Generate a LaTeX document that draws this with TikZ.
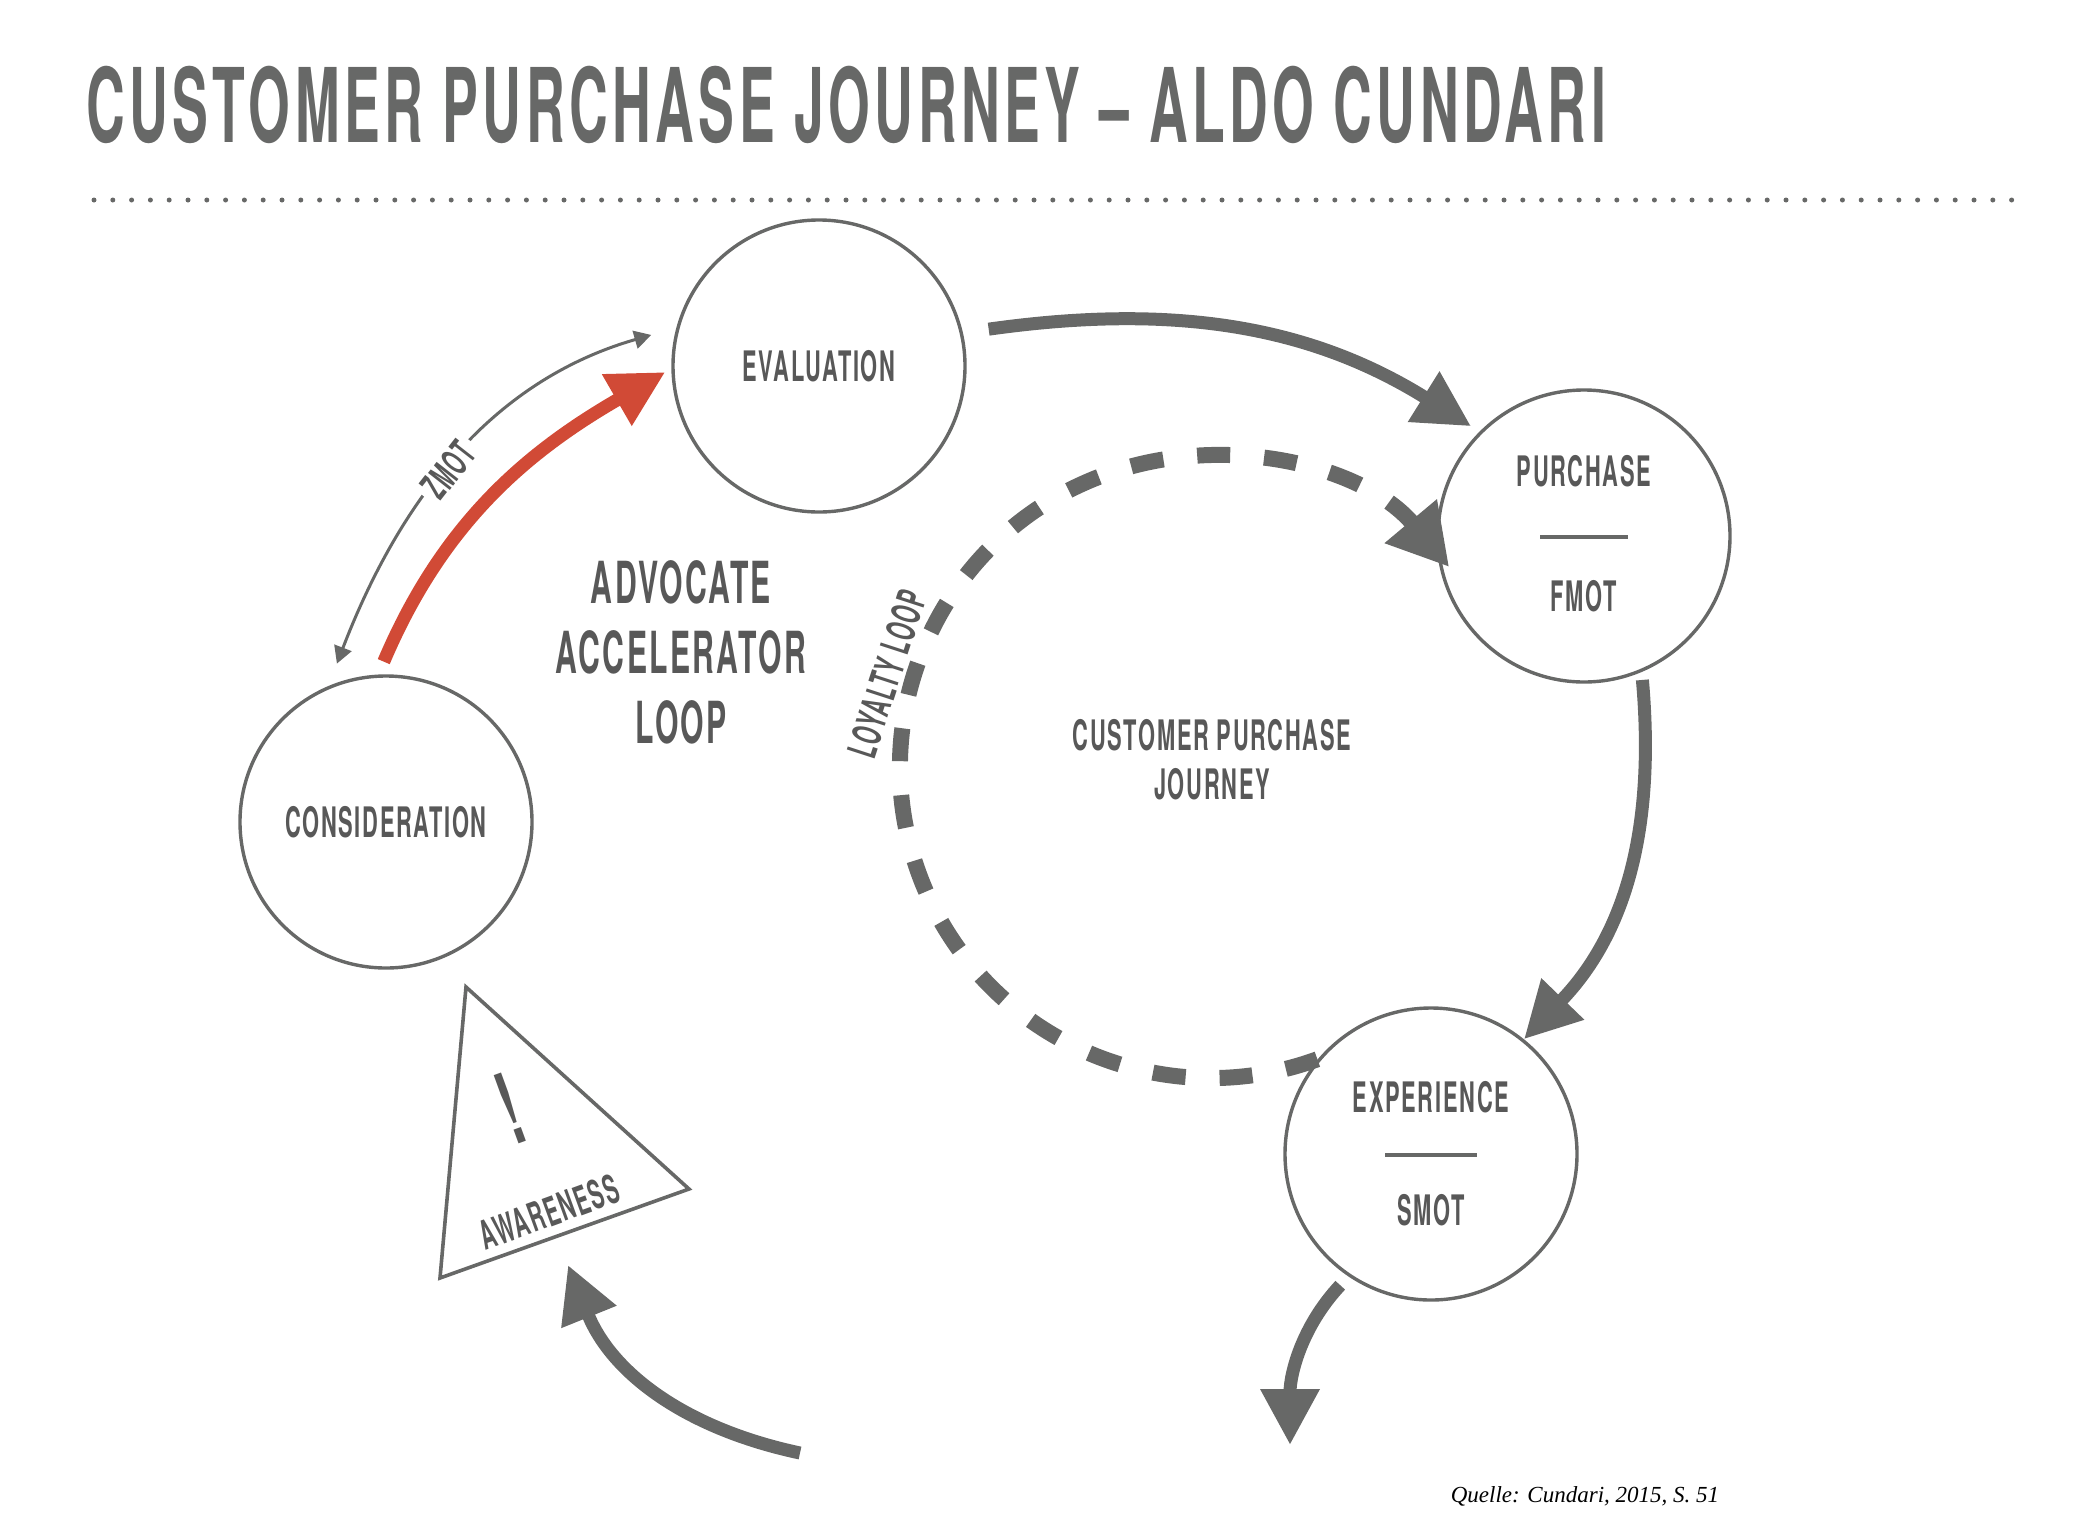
\documentclass[tikz,border=0pt]{standalone}
\usepackage{fontspec}
\usepackage{xcolor}
\usetikzlibrary{arrows.meta,calc,positioning}

\newfontfamily\dinfont{TeX Gyre Heros}[FakeStretch=0.52,LetterSpace=4]
\newfontfamily\headfont{TeX Gyre Heros}[FakeStretch=0.52,LetterSpace=4.4]
\newfontfamily\srcfont{Liberation Serif}
\newcommand\lblfont{\dinfont\bfseries\fontsize{21}{25}\selectfont}
\definecolor{cpjgray}{RGB}{103,104,103}
\definecolor{cpjtext}{RGB}{88,88,88}
\definecolor{cpjred}{RGB}{209,74,54}

\tikzset{
  stage/.style={circle, draw=cpjgray, line width=1.7pt, minimum size=146pt, inner sep=0pt, text=cpjtext, font=\lblfont},
  lbl/.style={inner sep=0pt, text=cpjtext, font=\lblfont},
  bigarrow/.style={draw=cpjgray, line width=6.5pt, -{Triangle[length=28pt,width=28pt]}},
  redarrow/.style={draw=cpjred, line width=6.5pt, -{Triangle[length=28pt,width=28pt]}},
  thinarrow/.style={draw=cpjgray, line width=1.5pt, {Triangle[length=8.5pt,width=9pt]}-{Triangle[length=8.5pt,width=9pt]}},
  loopline/.style={draw=cpjgray, line width=8pt, dash pattern=on 16.5pt off 17pt, -{Triangle[length=30pt,width=32pt]}},
  sepline/.style={draw=cpjgray, line width=1.7pt},
  warnbox/.style={draw=cpjgray, line width=1.8pt, line join=miter},
  dotline/.style={draw=cpjgray, line width=2.5pt, line cap=round, dash pattern=on 0pt off 9.4pt}
}

\begin{document}
\begin{tikzpicture}[x=0.5pt,y=0.5pt,yscale=-1]
\useasboundingbox (0,0) rectangle (2082,1537);

% Title
\node[anchor=west, inner sep=0pt, text=cpjgray, font=\headfont\bfseries\fontsize{51.5}{60}\selectfont] (head) at (86,105) {CUSTOMER PURCHASE JOURNEY – ALDO CUNDARI};
\draw[dotline] (94,200) -- (2012,200);

%Shape: Circle
\node[stage] (eval) at (819,366) {EVALUATION};
\node[stage] (purch) at (1584,536) {};
\node[stage] (consid) at (386,822) {CONSIDERATION};
\node[stage] (exper) at (1431,1154) {};

% Text Node
\node[lbl] (purchtxt) at ($(purch)+(0,-65)$) {PURCHASE};
\draw[sepline] ($(purch)+(-44,1)$) -- ($(purch)+(44,1)$);
\node[lbl] (fmot) at ($(purch)+(0,60)$) {FMOT};
\node[lbl] (expertxt) at ($(exper)+(0,-57)$) {EXPERIENCE};
\draw[sepline] ($(exper)+(-46,1)$) -- ($(exper)+(46,1)$);
\node[lbl] (smot) at ($(exper)+(0,56)$) {SMOT};

%Shape: Triangle
\coordinate (awtop) at (466,987);
\coordinate (awright) at (689,1189);
\coordinate (awleft) at (440,1278);
\draw[warnbox] (awtop) -- (awright) -- (awleft) -- cycle;
\node[lbl, rotate=20, font=\dinfont\bfseries\fontsize{50}{60}\selectfont] (bang) at (510,1108) {!};
\node[lbl, rotate=20, font=\dinfont\bfseries\fontsize{20}{24}\selectfont] (aware) at (549,1212) {AWARENESS};

% Loyalty loop
\coordinate (loopc) at (1211,767);
\draw[loopline] ($(loopc)+(70:311)$) arc[start angle=70, end angle=320, radius=311];
\node[lbl, align=center, font=\dinfont\bfseries\fontsize{21}{24.5}\selectfont] (cpj) at (1212,760) {CUSTOMER PURCHASE\\JOURNEY};
\node[lbl, rotate=72, font=\dinfont\bfseries\fontsize{20}{24}\selectfont] (loyal) at (887,674) {LOYALTY LOOP};

% Advocate accelerator loop
\node[lbl, align=center, font=\dinfont\bfseries\fontsize{29}{35}\selectfont] (aal) at (681,652) {ADVOCATE\\ACCELERATOR\\LOOP};
\draw[thinarrow, shorten <=12pt, shorten >=13pt] (consid.113) to[out=-69, in=164] node[pos=0.47, rotate=52, fill=white, inner sep=3pt, text=cpjtext, font=\dinfont\bfseries\fontsize{19}{23}\selectfont] (zmot) {ZMOT} (eval.165);
\draw[redarrow, shorten <=7pt, shorten >=3.5pt] (consid.93) to[out=-67, in=150] (eval.181);

% Connectors
\draw[bigarrow, shorten <=13pt, shorten >=5pt] (eval.13) to[out=-8, in=-148] (purch.135);
\draw[bigarrow, shorten <=4pt] (purch.-67) to[out=85, in=-46] (exper.51);
\coordinate (exit) at (1290,1445);
\draw[bigarrow, shorten <=6pt] (exper.-124) to[out=133, in=-90] (exit);
\coordinate (reentry) at (800,1453);
\coordinate (awtip) at (568,1265);
\draw[bigarrow] (reentry) to[out=-168, in=68] (awtip);

% Source
\node[font=\srcfont\itshape\fontsize{11.5}{14}\selectfont] (src) at (1585,1496) {Quelle: Cundari, 2015, S. 51};

\end{tikzpicture}
\end{document}
